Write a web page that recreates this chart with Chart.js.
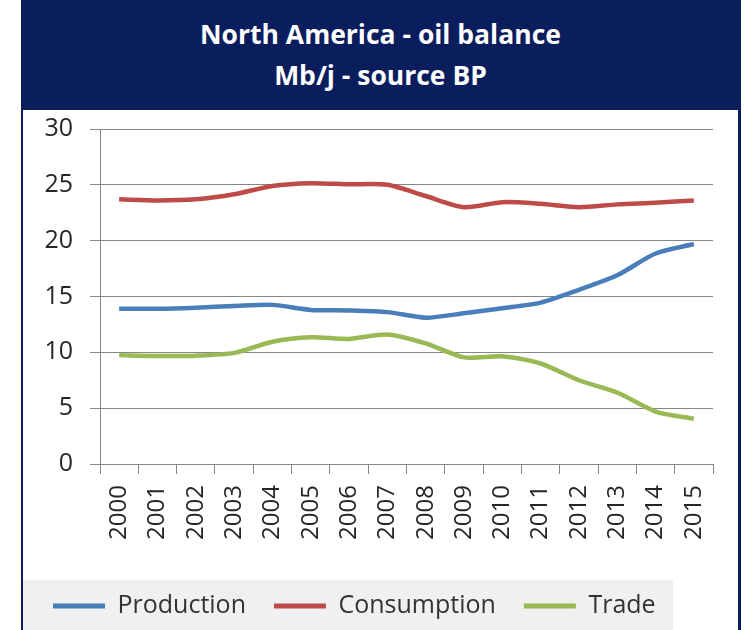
<!DOCTYPE html>
<html>
<head>
<meta charset="utf-8">
<script src="https://cdn.jsdelivr.net/npm/chart.js@4"></script>
<style>
  html, body { margin: 0; padding: 0; background: #fff; }
  #frame {
    position: absolute; left: 21px; top: 0; width: 715px; height: 630px;
    border-left: 2px solid #0a1e5e; border-right: 3px solid #0a1e5e;
    background: #fff;
  }
  #title {
    position: absolute; left: 0; top: 0; width: 715px; height: 110px;
    background: #0a1e5e; color: #fff; text-align: center;
    font-family: "Open Sans", sans-serif; font-weight: bold; font-size: 26.5px;
  }
  #title div { position: absolute; left: 0; width: 100%; line-height: normal; }
  #chartBox { position: absolute; left: 0; top: 110px; width: 714px; height: 520px; }
</style>
</head>
<body>
<div id="frame">
  <div id="title">
    <div style="top:16px">North America - oil balance</div>
    <div style="top:57px">Mb/j - source BP</div>
  </div>
  <div id="chartBox"><canvas id="oilChart"></canvas></div>
</div>
<script>
// ==================== DATA ====================
const years = ['2000','2001','2002','2003','2004','2005','2006','2007',
               '2008','2009','2010','2011','2012','2013','2014','2015'];
const production  = [13.9, 13.9, 14.0, 14.15, 14.25, 13.8, 13.75, 13.6, 13.1, 13.5, 13.95, 14.45, 15.6, 16.9, 18.85, 19.7];
const consumption = [23.7, 23.6, 23.7, 24.15, 24.9, 25.15, 25.05, 25.0, 24.0, 23.0, 23.45, 23.3, 23.0, 23.25, 23.4, 23.6];
const trade       = [9.75, 9.67, 9.7, 9.95, 10.95, 11.35, 11.2, 11.6, 10.8, 9.55, 9.65, 9.0, 7.5, 6.4, 4.7, 4.05];
const yMin = 0, yMax = 30, yStep = 5;

// ==================== CHART ====================
const gridGray = '#868686';
const textCol = '#262626';

// fixed legend height + light grey band behind it
const legendBg = {
  id: 'legendBg',
  beforeInit(chart) {
    const fit = chart.legend.fit;
    chart.legend.fit = function () { fit.call(this); this.height = 64.5; };
  },
  beforeDraw(chart) {
    const ctx = chart.ctx;
    ctx.save();
    ctx.fillStyle = '#f0f0f0';
    ctx.fillRect(0, chart.height - 50, 650, 50);
    ctx.restore();
  }
};

function series(label, data, color) {
  return {
    label, data,
    borderColor: color, backgroundColor: color,
    borderWidth: 4.5, pointRadius: 0, tension: 0.25, fill: false
  };
}

new Chart(document.getElementById('oilChart'), {
  type: 'line',
  data: {
    labels: years,
    datasets: [
      series('Production', production, '#4a7ebb'),
      series('Consumption', consumption, '#be4b48'),
      series('Trade', trade, '#98b954')
    ]
  },
  options: {
    responsive: true,
    maintainAspectRatio: false,
    animation: false,
    layout: { padding: { top: 19, right: 24, left: 2, bottom: 0 } },
    plugins: {
      tooltip: { enabled: false },
      legend: {
        position: 'bottom',
        align: 'start',
        labels: {
          font: { family: 'Open Sans', size: 25 },
          color: '#333',
          boxWidth: 52, boxHeight: 5, padding: 28,
          generateLabels(chart) {
            return Chart.defaults.plugins.legend.labels.generateLabels(chart)
              .map(l => Object.assign(l, { fillStyle: l.strokeStyle, lineWidth: 0 }));
          }
        }
      }
    },
    scales: {
      x: {
        offset: true,
        grid: { offset: true, drawOnChartArea: false, drawTicks: true, tickLength: 10, color: gridGray },
        border: { color: gridGray },
        ticks: { autoSkip: false, minRotation: 90, maxRotation: 90, padding: 11, color: textCol,
                 font: { family: 'Open Sans', size: 24 } },
        afterFit(scale) { scale.height = 101.5; }
      },
      y: {
        min: yMin, max: yMax,
        grid: { color: gridGray, tickLength: 10 },
        border: { color: gridGray },
        ticks: { stepSize: yStep, padding: 17, color: textCol,
                 font: { family: 'Open Sans', size: 25 } },
        afterFit(scale) {
          scale.width = 75;
          scale.paddingTop = 0;
          scale.paddingBottom = 0;
        }
      }
    }
  },
  plugins: [legendBg]
});
</script>
</body>
</html>
